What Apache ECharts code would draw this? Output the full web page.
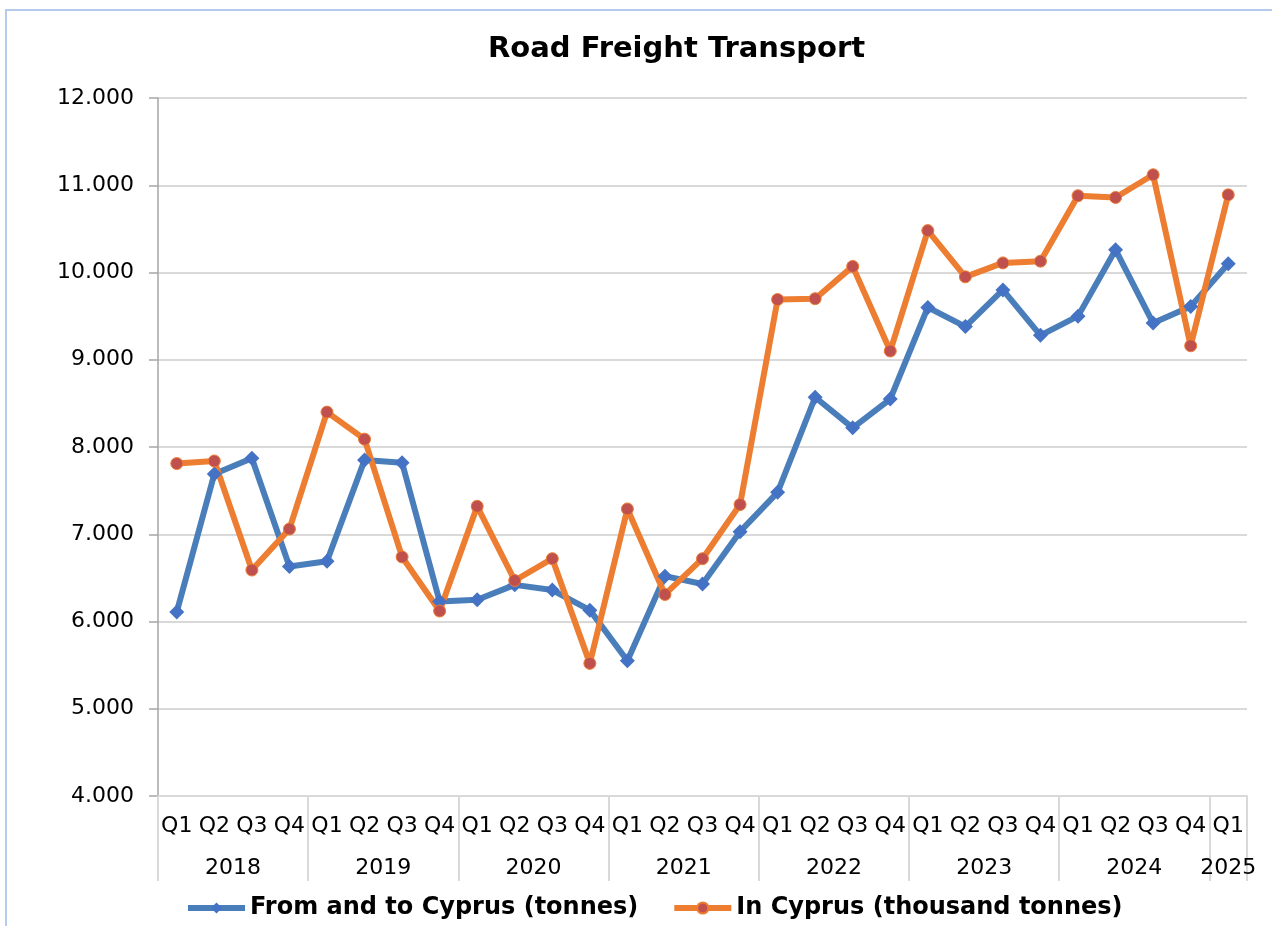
<!DOCTYPE html>
<html>
<head>
<meta charset="utf-8">
<title>Road Freight Transport</title>
<script src="https://cdn.jsdelivr.net/npm/echarts@6/dist/echarts.min.js"></script>
<style>
    html, body { margin: 0; padding: 0; background: #fff; overflow: hidden; }
    #frame { position: absolute; left: 5px; top: 9px; width: 1400px; height: 1100px; border: 2px solid #b4cbeb; }
    #main { position: absolute; left: 0; top: 0; width: 1272px; height: 926px; }
</style>
</head>
<body>
<div id="frame"></div>
<div id="main"></div>
<script>
// years and how many quarters each one has in the data
const years = ['2018', '2019', '2020', '2021', '2022', '2023', '2024', '2025'];
const quartersPerYear = [4, 4, 4, 4, 4, 4, 4, 1];

// From and to Cyprus (tonnes)
const fromAndToCyprus = [6110, 7690, 7870, 6630, 6690, 7850, 7820, 6230,
    6250, 6420, 6360, 6130, 5550, 6520, 6430, 7030,
    7480, 8570, 8220, 8550, 9600, 9380, 9800, 9280,
    9500, 10260, 9420, 9610, 10100];

// In Cyprus (thousand tonnes)
const inCyprus = [7810, 7840, 6590, 7060, 8400, 8090, 6740, 6120,
    7320, 6470, 6720, 5520, 7290, 6310, 6720, 7340,
    9690, 9700, 10070, 9100, 10480, 9950, 10110, 10130,
    10880, 10860, 11120, 9160, 10890];

const yTicks = [4000, 5000, 6000, 7000, 8000, 9000, 10000, 11000, 12000];

// quarter labels and the middle position of every year group
const quarters = [];
const yearAt = {};
let start = 0;
years.forEach(function (y, i) {
    for (let q = 1; q <= quartersPerYear[i]; q++) quarters.push('Q' + q);
    yearAt[start + quartersPerYear[i] / 2] = y;
    start += quartersPerYear[i];
});

const font = 'DejaVu Sans';
const chart = echarts.init(document.getElementById('main'));

chart.setOption({
    animation: false,
    title: {
        text: 'Road Freight Transport',
        left: 483,
        top: 30,
        textStyle: { fontFamily: font, fontSize: 29, fontWeight: 'bold', color: '#000' }
    },
    legend: {
        left: 180,
        top: 891,
        itemWidth: 57,
        itemHeight: 14,
        itemGap: 33,
        lineStyle: { width: 6 },
        textStyle: { fontFamily: font, fontSize: 24, fontWeight: 'bold', color: '#000' },
        data: ['From and to Cyprus (tonnes)', 'In Cyprus (thousand tonnes)']
    },
    grid: { left: 158, right: 25, top: 98, bottom: 130 },
    xAxis: [
        {
            // quarter row
            type: 'category',
            data: quarters,
            boundaryGap: true,
            axisLine: { lineStyle: { color: '#d9d9d9', width: 2 } },
            axisTick: { show: false },
            axisLabel: {
                interval: 0,
                margin: 19,
                fontFamily: font,
                fontSize: 22,
                color: '#000'
            }
        },
        {
            // year row
            type: 'value',
            position: 'bottom',
            min: 0,
            max: quarters.length,
            interval: 0.5,
            axisLine: { show: false },
            axisTick: { show: false },
            splitLine: { show: false },
            axisLabel: {
                margin: 61,
                fontFamily: font,
                fontSize: 22,
                color: '#000',
                formatter: function (v) { return yearAt[v] || ''; }
            }
        },
        {
            // separators between the year groups
            type: 'value',
            position: 'bottom',
            min: 0,
            max: quarters.length,
            interval: 4,
            axisLine: { show: false },
            axisLabel: { show: false },
            splitLine: { show: false },
            axisTick: { show: true, length: 85, lineStyle: { color: '#d9d9d9', width: 2 } }
        }
    ],
    yAxis: {
        type: 'value',
        min: yTicks[0],
        max: yTicks[yTicks.length - 1],
        interval: 1000,
        axisLine: { show: true, lineStyle: { color: '#a6a6a6', width: 1.5 } },
        axisTick: { show: true, length: 9, lineStyle: { color: '#a6a6a6', width: 1.5 } },
        splitLine: { lineStyle: { color: '#d9d9d9', width: 2 } },
        axisLabel: {
            margin: 24,
            fontFamily: font,
            fontSize: 22,
            color: '#000',
            formatter: function (v) { return (v / 1000).toFixed(3); }
        }
    },
    series: [
        {
            name: 'From and to Cyprus (tonnes)',
            type: 'line',
            data: fromAndToCyprus,
            symbol: 'diamond',
            symbolSize: 15,
            lineStyle: { color: '#4a7ebb', width: 6 },
            itemStyle: { color: '#4472c4' }
        },
        {
            name: 'In Cyprus (thousand tonnes)',
            type: 'line',
            data: inCyprus,
            symbol: 'circle',
            symbolSize: 12,
            lineStyle: { color: '#ed7d31', width: 6 },
            itemStyle: { color: '#c0504d', borderColor: '#ed7d31', borderWidth: 1 }
        }
    ]
});
</script>
</body>
</html>
